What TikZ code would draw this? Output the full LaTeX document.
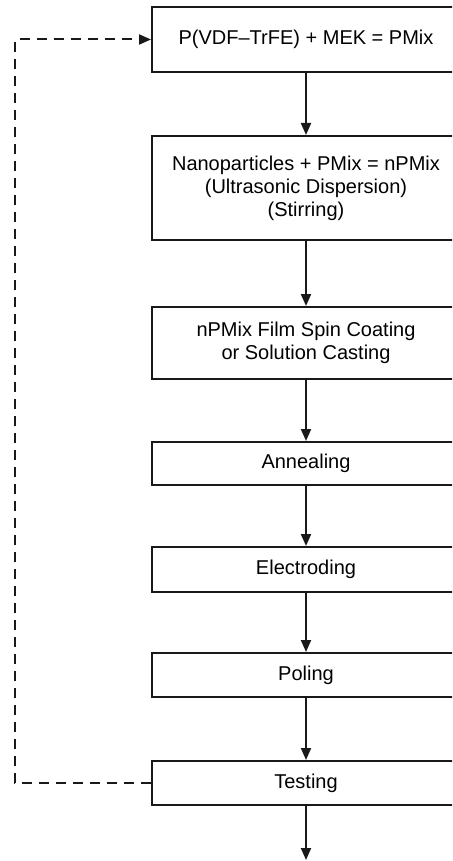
\documentclass[tikz,border=0pt]{standalone}
\usepackage{fontspec}
\setmainfont{Liberation Sans}
\usetikzlibrary{arrows.meta}
\begin{document}
\begin{tikzpicture}[x=0.5pt,y=-0.5pt,
  stepbox/.style={draw=black!90, line width=1pt, minimum width=154pt, inner sep=0pt,
    align=center, font=\fontsize{10}{11.5}\selectfont, fill=white},
  arr/.style={line width=1pt, draw=black!90, -{Triangle[length=6pt,width=5pt]}},
  fb/.style={line width=1pt, draw=black!90, dash pattern=on 5pt off 3.5pt}]
\useasboundingbox (0,0) rectangle (452,861);
\clip (0,0) rectangle (452,861);
\node[stepbox, minimum height=32.5pt] (b1) at (306,39.5) {P(VDF–TrFE) + MEK = PMix};
\node[stepbox, minimum height=52pt] (b2) at (306,188) {Nanoparticles + PMix = nPMix\\(Ultrasonic Dispersion)\\(Stirring)};
\node[stepbox, minimum height=36pt] (b3) at (306,343) {nPMix Film Spin Coating\\or Solution Casting};
\node[stepbox, minimum height=21.5pt] (b4) at (306,463.5) {Annealing};
\node[stepbox, minimum height=22.5pt] (b5) at (306,569.5) {Electroding};
\node[stepbox, minimum height=22pt] (b6) at (306,675) {Poling};
\node[stepbox, minimum height=22pt] (b7) at (306,783) {Testing};
\coordinate (out) at (306,860);
\coordinate (lc) at (15,783);
\draw[arr] (b1.south) -- (b2.north);
\draw[arr] (b2.south) -- (b3.north);
\draw[arr] (b3.south) -- (b4.north);
\draw[arr] (b4.south) -- (b5.north);
\draw[arr] (b5.south) -- (b6.north);
\draw[arr] (b6.south) -- (b7.north);
\draw[arr] (b7.south) -- (out);
\draw[fb, -{Triangle[length=6pt,width=5pt]}] (b7.west) -- (lc) |- (b1.west);
\end{tikzpicture}
\end{document}
